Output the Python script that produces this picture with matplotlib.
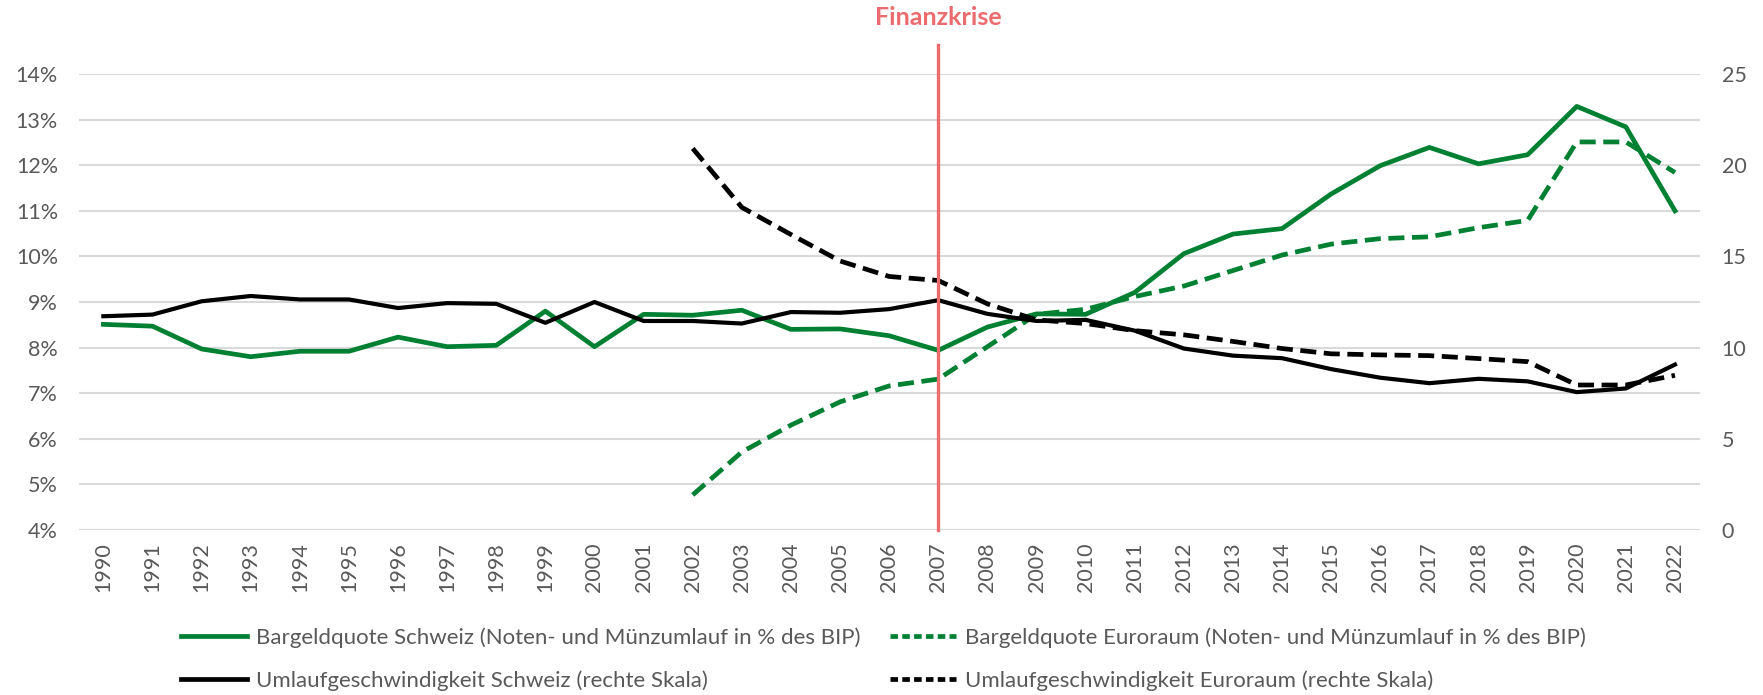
import matplotlib
matplotlib.use("Agg")
import matplotlib.pyplot as plt
from matplotlib.lines import Line2D
from matplotlib.ticker import FuncFormatter

# Daten
years = [1990, 1991, 1992, 1993, 1994, 1995, 1996, 1997, 1998, 1999, 2000,
         2001, 2002, 2003, 2004, 2005, 2006, 2007, 2008, 2009, 2010, 2011,
         2012, 2013, 2014, 2015, 2016, 2017, 2018, 2019, 2020, 2021, 2022]
years_ea = years[12:]

ch_cash = [8.51, 8.47, 7.97, 7.80, 7.92, 7.92, 8.23, 8.02, 8.05, 8.80, 8.02,
           8.73, 8.71, 8.82, 8.40, 8.41, 8.26, 7.94, 8.45, 8.74, 8.73, 9.21,
           10.06, 10.49, 10.61, 11.37, 11.99, 12.39, 12.03, 12.23, 13.29,
           12.84, 11.00]
ea_cash = [4.77, 5.71, 6.30, 6.81, 7.16, 7.31, 8.02, 8.73, 8.84, 9.12, 9.35,
           9.69, 10.03, 10.27, 10.39, 10.43, 10.63, 10.79, 12.51, 12.51, 11.84]
ch_vel = [11.72, 11.81, 12.54, 12.83, 12.64, 12.64, 12.17, 12.44, 12.40, 11.36,
          12.50, 11.46, 11.46, 11.32, 11.95, 11.91, 12.11, 12.60, 11.85, 11.46,
          11.52, 10.93, 9.95, 9.56, 9.42, 8.82, 8.35, 8.05, 8.29, 8.15, 7.56,
          7.76, 9.07]
ea_vel = [20.92, 17.69, 16.2, 14.75, 13.9, 13.68, 12.40, 11.52, 11.32, 10.93,
          10.70, 10.34, 9.95, 9.66, 9.60, 9.56, 9.40, 9.23, 7.95, 7.95, 8.48]

crisis_year = 2007
crisis_label = "Finanzkrise"

labels = [
    "Bargeldquote Schweiz (Noten- und Münzumlauf in % des BIP)",
    "Umlaufgeschwindigkeit Schweiz (rechte Skala)",
    "Bargeldquote Euroraum (Noten- und Münzumlauf in % des BIP)",
    "Umlaufgeschwindigkeit Euroraum (rechte Skala)",
]

GREEN = "#008033"
BLACK = "#000000"
RED = "#EB6B6E"
GREY = "#595959"
GRID = "#D9D9D9"
FONT = "Lato"

plt.rcParams["font.family"] = [FONT, "DejaVu Sans"]

fig = plt.figure(figsize=(17.63, 6.95), dpi=100)
ax = fig.add_axes([0.0447, 0.2374, 0.964 - 0.0447, 0.8935 - 0.2374])
ax2 = ax.twinx()

lw = 3.4
dash = (3.4, 1.6)
ax.plot(years, ch_cash, color=GREEN, lw=lw, solid_joinstyle="round", zorder=3)
ax.plot(years_ea, ea_cash, color=GREEN, lw=lw, dashes=dash, zorder=3)
ax2.plot(years, ch_vel, color=BLACK, lw=3.0, solid_joinstyle="round", zorder=3)
ax2.plot(years_ea, ea_vel, color=BLACK, lw=lw, dashes=dash, zorder=3)

ax.set_xlim(1989.5, 2022.5)
ax.set_ylim(4, 14)
ax2.set_ylim(0, 25)
ax.set_yticks(range(4, 15))
ax2.set_yticks(range(0, 26, 5))
ax.yaxis.set_major_formatter(FuncFormatter(lambda v, p: f"{v:.0f}%"))
ax.set_xticks(years)
ax.set_xticklabels([str(y) for y in years], rotation=90)

ax.grid(axis="y", color=GRID, lw=1.5, zorder=0)
ax.set_axisbelow(True)
for a in (ax, ax2):
    for s in a.spines.values():
        s.set_visible(False)
    a.tick_params(length=0, labelsize=15.5, labelcolor=GREY)
ax.tick_params(axis="y", pad=15)
ax2.tick_params(axis="y", pad=16)
ax.tick_params(axis="x", pad=9)

# Finanzkrise-Markierung
ax2.axvline(crisis_year, ymin=0, ymax=1.064, color=RED, lw=2.4,
            clip_on=False, zorder=5)
ax2.text(crisis_year, 1.125, crisis_label, transform=ax2.get_xaxis_transform(),
         ha="center", va="center", color=RED, fontsize=18,
         fontweight="bold")

handles = [
    Line2D([0], [0], color=GREEN, lw=lw),
    Line2D([0], [0], color=BLACK, lw=lw),
    Line2D([0], [0], color=GREEN, lw=lw, dashes=(1.6, 0.9)),
    Line2D([0], [0], color=BLACK, lw=lw, dashes=(1.6, 0.9)),
]
leg = fig.legend(handles, labels, loc="lower center", ncol=2,
                 bbox_to_anchor=(0.501, -0.023), frameon=False,
                 fontsize=16, handlelength=3.0, handletextpad=0.4,
                 columnspacing=1.3, labelspacing=1.0)
for t in leg.get_texts():
    t.set_color(GREY)

fig.savefig("out.png", dpi=100)
